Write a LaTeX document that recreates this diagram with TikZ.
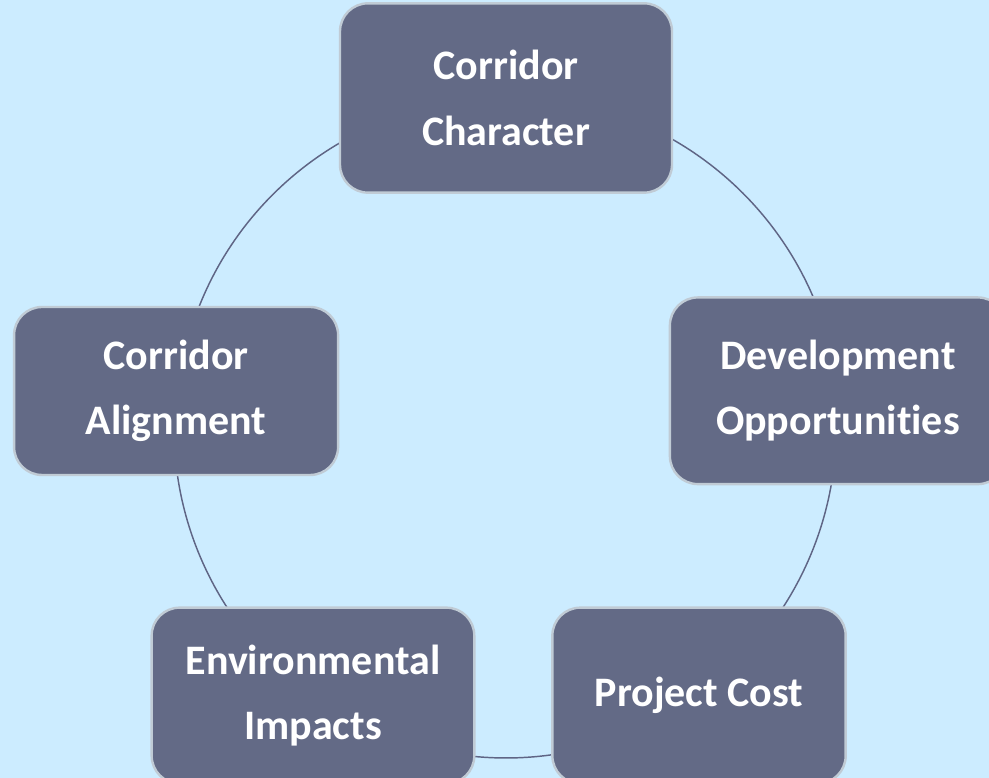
\documentclass[tikz,border=0pt]{standalone}
\usepackage{fontspec}
\setmainfont{Carlito}[Ligatures=NoCommon]
\definecolor{skyback}{RGB}{204,236,255}
\definecolor{slatefill}{RGB}{99,106,134}
\definecolor{edgegray}{RGB}{192,203,213}
\definecolor{ringline}{RGB}{95,101,133}
\usetikzlibrary{positioning,calc,backgrounds}

\tikzset{
  phase/.style={rectangle, rounded corners=21pt, fill=slatefill, draw=edgegray,
    line width=1.8pt, text=white, align=center,
    font=\bfseries\fontsize{31.5}{49}\selectfont},
  ring/.style={draw=ringline, line width=1.1pt}
}

\begin{document}
\begin{tikzpicture}[x=0.75pt,y=0.75pt]
  \useasboundingbox (0,0) rectangle (989,778);
  \coordinate (hub) at (506,350);

  % five stages round the cycle
  \node[phase, minimum width=249pt, minimum height=142pt] (character) at ([shift={(90:330)}]hub) {Corridor\\Character};
  \node[phase, minimum width=243pt, minimum height=126pt] (alignment) at ([shift={(173.6:332)}]hub) {Corridor\\Alignment};
  \node[phase, minimum width=242pt, minimum height=132pt] (impacts) at ([shift={(234.2:330)}]hub) {Environmental\\Impacts};
  \node[phase, minimum width=220pt, minimum height=132pt] (cost) at ([shift={(305.8:330)}]hub) {Project Cost};
  \node[phase, minimum width=252pt, minimum height=140pt] (develop) at ([shift={(6.4:334)}]hub) {Development\\Opportunities};

  \begin{scope}[on background layer]
    \fill[skyback] (0,0) rectangle (989,778);
    % ring pieces, node to node
    \draw[ring] (character.center) arc[start angle=90, end angle=173.6, radius=247.5pt];
    \draw[ring] (alignment.center) arc[start angle=173.6, end angle=234.2, radius=248pt];
    \draw[ring] (impacts.center) arc[start angle=234.2, end angle=305.8, radius=247.5pt];
    \draw[ring] (cost.center) arc[start angle=305.8, end angle=366.4, radius=248pt];
    \draw[ring] (develop.center) arc[start angle=6.4, end angle=90, radius=249pt];
  \end{scope}
\end{tikzpicture}
\end{document}
